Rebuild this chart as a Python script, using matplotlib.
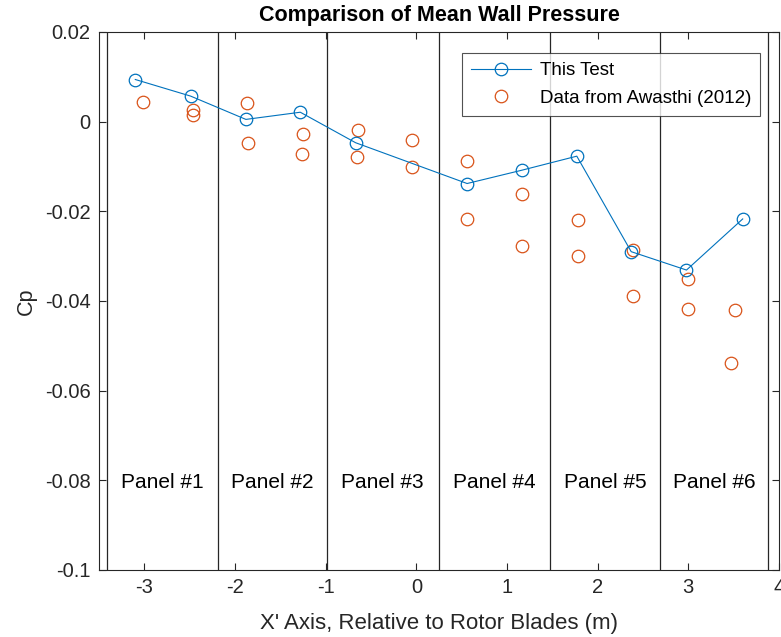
import matplotlib
matplotlib.use("Agg")
import matplotlib.pyplot as plt

plt.rcParams['font.family'] = ['Liberation Sans', 'DejaVu Sans']

# Mean wall pressure coefficient, this test
test_x = [-3.10, -2.49, -1.88, -1.28, -0.67, 0.56, 1.17, 1.77, 2.37, 2.98, 3.60]
test_cp = [0.0094, 0.0057, 0.0005, 0.0021, -0.0047, -0.0138, -0.0108, -0.0077, -0.0290, -0.0331, -0.0217]

# Reference data from Awasthi (2012)
ref_x = [-3.02, -2.46, -2.46, -1.87, -1.86, -1.25, -1.26, -0.64, -0.65, -0.05, -0.05,
         0.56, 0.56, 1.17, 1.17, 1.78, 1.78, 2.39, 2.39, 3.00, 3.00, 3.51, 3.47]
ref_cp = [0.0044, 0.0026, 0.0015, 0.0041, -0.0048, -0.0027, -0.0072, -0.0018, -0.0079,
          -0.0040, -0.0102, -0.0088, -0.0217, -0.0161, -0.0278, -0.0219, -0.0300,
          -0.0286, -0.0390, -0.0352, -0.0418, -0.0420, -0.0538]

# Panel boundaries along the wall
panel_edges = [-3.41, -2.19, -0.99, 0.25, 1.47, 2.69, 3.88]
panel_names = ["Panel #1", "Panel #2", "Panel #3", "Panel #4", "Panel #5", "Panel #6"]

blue = "#0072BD"
orange = "#D95319"
ink = "#262626"

fig = plt.figure(figsize=(7.81, 6.37), dpi=100)
ax = fig.add_axes([0.1268, 0.1052, 0.8706, 0.8446])

for xe in panel_edges:
    ax.axvline(xe, color=ink, lw=0.9, zorder=1)

for i, name in enumerate(panel_names):
    xc = 0.5 * (panel_edges[i] + panel_edges[i + 1])
    ax.text(xc, -0.08, name, ha="center", va="center_baseline", fontsize=15,
            color="black")

ax.plot(test_x, test_cp, "-o", color=blue, lw=0.8, ms=9, mfc="none", mew=0.9,
        label="This Test", zorder=3)
ax.plot(ref_x, ref_cp, "o", color=orange, ms=9, mfc="none", mew=0.9,
        label="Data from Awasthi (2012)", zorder=2)

ax.set_xlim(-3.5, 4)
ax.set_ylim(-0.1, 0.02)
ax.set_xticks([-3, -2, -1, 0, 1, 2, 3, 4])
ax.set_xticklabels(["-3", "-2", "-1", "0", "1", "2", "3", "4"])
ax.set_yticks([-0.1, -0.08, -0.06, -0.04, -0.02, 0, 0.02])
ax.set_yticklabels(["-0.1", "-0.08", "-0.06", "-0.04", "-0.02", "0", "0.02"])

ax.tick_params(direction="in", length=5, width=0.8, top=True, right=True,
               labelsize=14.5, colors=ink)
ax.tick_params(axis="y", pad=6)
ax.tick_params(axis="x", pad=6)
for s in ax.spines.values():
    s.set_color(ink)
    s.set_linewidth(0.8)

ax.set_xlabel("X' Axis, Relative to Rotor Blades (m)", fontsize=16, color=ink,
              labelpad=11.5)
ax.set_ylabel("Cp", fontsize=15.5, color=ink, labelpad=6)
ax.set_title("Comparison of Mean Wall Pressure", fontsize=15.5, fontweight="bold",
             color="black", pad=8)

leg = ax.legend(loc="upper right", bbox_to_anchor=(0.9725, 0.961), fontsize=13.5,
                frameon=True, fancybox=False, edgecolor=ink, borderpad=0.5,
                handlelength=3.2, handletextpad=0.45, labelspacing=0.55,
                borderaxespad=0.0)
leg.get_frame().set_linewidth(0.8)

fig.savefig("out.png", dpi=100)
